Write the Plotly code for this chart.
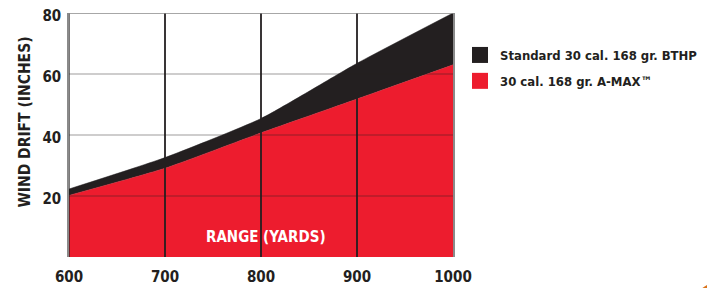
import plotly.graph_objects as go

range_yards = [600, 700, 800, 900, 1000]
standard_bthp = [22.3, 32.6, 45.4, 63.5, 80.0]
amax = [20.2, 29.1, 40.7, 51.8, 63.0]
x_ticks = [600, 700, 800, 900, 1000]
y_ticks = [20, 40, 60, 80]

BLACK = "#231f20"
RED = "#ed1c2e"
FONT = "DejaVu Sans Condensed, Liberation Sans, sans-serif"

# page body has an 8px margin; figure is sized so the plot sits where the reference has it
W, H = 707, 280
L, T = 61, 5
PW, PH = 384, 244

fig = go.Figure()
fig.add_trace(go.Scatter(x=range_yards, y=amax, mode="lines", fill="tozeroy",
                         fillcolor=RED, line=dict(color=RED, width=0.5, shape="spline", smoothing=0.5),
                         showlegend=False, hoverinfo="x+y"))
fig.add_trace(go.Scatter(x=range_yards, y=standard_bthp, mode="lines", fill="tonexty",
                         fillcolor=BLACK, line=dict(color=BLACK, width=0.5, shape="spline", smoothing=0.5),
                         showlegend=False, hoverinfo="x+y"))
# legend entries
fig.add_trace(go.Scatter(x=[None], y=[None], mode="markers", name="Standard 30 cal. 168 gr. BTHP",
                         legendgroup="a", marker=dict(symbol="square", size=20, color=BLACK)))
fig.add_trace(go.Scatter(x=[None], y=[None], mode="markers", name="30 cal. 168 gr. A-MAX™",
                         legendgroup="b", marker=dict(symbol="square", size=20, color=RED)))

shapes = []
for v in x_ticks[1:-1]:
    shapes.append(dict(type="line", xref="x", yref="paper", x0=v, x1=v, y0=0, y1=1,
                       line=dict(color="rgba(35,31,32,0.9)", width=2), layer="above"))
for v in y_ticks[:-1]:
    shapes.append(dict(type="line", xref="paper", yref="y", x0=0, x1=1, y0=v, y1=v,
                       line=dict(color="rgba(35,31,32,0.45)", width=1), layer="above"))
shapes.append(dict(type="line", xref="x", yref="paper", x0=x_ticks[0], x1=x_ticks[0], y0=0, y1=1,
                   line=dict(color="rgba(35,31,32,0.6)", width=2), layer="above"))
# orange page decoration, bottom-right corner
cx, cy, r = 729, 329, 60
shapes.append(dict(type="circle", xref="paper", yref="paper",
                   x0=(cx - r - L) / PW, x1=(cx + r - L) / PW,
                   y0=(T + PH - (cy + r)) / PH, y1=(T + PH - (cy - r)) / PH,
                   fillcolor="#d9731b", line=dict(width=0), layer="above"))

fig.update_layout(
    width=W, height=H,
    margin=dict(l=L, r=W - L - PW, t=T, b=H - T - PH, autoexpand=False),
    paper_bgcolor="white", plot_bgcolor="white",
    font=dict(family=FONT, color=BLACK),
    legend=dict(x=(452 - L) / PW, y=(T + PH - 32) / PH, xanchor="left", yanchor="top",
                traceorder="grouped", tracegroupgap=6,
                font=dict(family=FONT, size=13, color=BLACK, weight="bold"),
                itemsizing="trace", bgcolor="rgba(0,0,0,0)"),
    xaxis=dict(range=[600, 1000], tickvals=x_ticks, ticktext=[str(v) for v in x_ticks],
               showgrid=False, zeroline=False, showline=False,
               ticks="outside", ticklen=6, tickcolor="rgba(0,0,0,0)",
               tickfont=dict(family=FONT, size=15, color=BLACK, weight="bold")),
    yaxis=dict(range=[0, 80], tickvals=y_ticks, ticktext=[str(v) for v in y_ticks],
               showgrid=False, zeroline=False, showline=True, mirror=True,
               linecolor="#8a8a8a", linewidth=1.5, ticklabeloverflow="allow",
               ticklabelshift=3,
               ticks="outside", ticklen=3, tickcolor="rgba(0,0,0,0)",
               tickfont=dict(family=FONT, size=15, color=BLACK, weight="bold")),
    annotations=[
        dict(text="WIND DRIFT (INCHES)", textangle=-90, xref="paper", yref="paper",
             x=(17 - L) / PW, y=(T + PH - 114.6) / PH, xanchor="center", yanchor="middle",
             showarrow=False, font=dict(family=FONT, size=15.5, color=BLACK, weight="bold")),
        dict(text="RANGE (YARDS)", xref="x", yref="y", x=805, y=6.7,
             xanchor="center", yanchor="middle", showarrow=False,
             font=dict(family=FONT, size=15, color="white", weight="bold")),
    ],
    shapes=shapes,
)
fig.add_hline(y=y_ticks[-1], line=dict(color="#8a8a8a", width=1.5), layer="above")

fig.write_html("out.html")
